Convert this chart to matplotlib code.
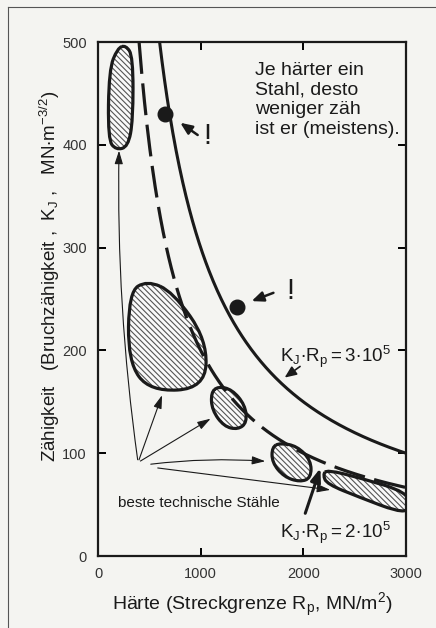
import numpy as np
import matplotlib
matplotlib.use("Agg")
import matplotlib.pyplot as plt
from matplotlib.path import Path
from matplotlib.patches import PathPatch, FancyArrowPatch
from matplotlib.lines import Line2D

plt.rcParams['font.family'] = ['Liberation Sans', 'DejaVu Sans']
plt.rcParams['mathtext.fontset'] = 'custom'
plt.rcParams['mathtext.rm'] = 'Liberation Sans'
plt.rcParams['mathtext.it'] = 'Liberation Sans'
plt.rcParams['hatch.linewidth'] = 0.8

# hyperbolas K_J * R_p = const, as labelled in the chart
product_solid = 3e5
product_dashed = 2e5

# hatched regions "beste technische Stähle" (outline control points, R_p / K_J)
blob_a_x = [270, 341, 341, 292, 175, 97, 107, 190]
blob_a_y = [497, 486, 424, 398, 395, 405, 473, 494]
blob_b_x = [477, 302, 292, 506, 1042, 1062, 730]
blob_b_y = [268, 257, 189, 160, 163, 210, 257]
blob_c_x = [1169, 1305, 1432, 1451, 1364, 1227, 1110, 1101]
blob_c_y = [165, 162, 147, 130, 123, 126, 142, 159]
blob_d_x = [1773, 1938, 2075, 2075, 1967, 1812, 1695, 1695]
blob_d_y = [110, 107, 93, 76, 72, 77, 91, 106]
blob_e_x = [2230, 2552, 3019, 3039, 2922, 2552, 2230, 2191]
blob_e_y = [84, 76, 62, 45, 43, 57, 70, 79]

# exceptional steels (dots marked with "!")
dot_x = [650, 1354]
dot_y = [430, 242]
bang_arrow_tail = [(993, 408), (1734, 257)]
bang_arrow_head = [(779, 423), (1471, 247)]
bang_pos = [(1062, 409), (1870, 258)]

# arrows from the label to the hatched regions
label_arrow_tail = [(390, 91), (390, 91), (390, 91), (487, 89), (555, 86)]
label_arrow_tip = [(205, 397), (633, 159), (1120, 135), (1656, 92), (2289, 64)]
label_arrow_rad = [-0.04, 0.0, 0.0, -0.05, 0.0]

xticks = [0, 1000, 2000, 3000]
yticks = [0, 100, 200, 300, 400, 500]

ink = '#1a1a1a'
paper = '#f4f4f1'

fig = plt.figure(figsize=(4.36, 6.28), dpi=100, facecolor=paper)
ax = fig.add_axes([0.2248, 0.1146, 0.7064, 0.8185])
ax.set_facecolor(paper)
ax.set_xlim(0, 3000)
ax.set_ylim(0, 500)

# outer frame of the figure
fig.add_artist(Line2D([0.018, 0.018], [0.0, 0.989], transform=fig.transFigure, color='#555555', lw=0.8))
fig.add_artist(Line2D([0.018, 1.0], [0.989, 0.989], transform=fig.transFigure, color='#555555', lw=0.8))


def blob_path(xs, ys):
    # smooth closed outline (quadratic B-spline through the edge midpoints)
    pts = np.column_stack([xs, ys]).astype(float)
    n = len(pts)
    mids = (pts + np.roll(pts, -1, axis=0)) / 2
    verts = [mids[-1]]
    codes = [Path.MOVETO]
    for i in range(n):
        verts += [pts[i], mids[i]]
        codes += [Path.CURVE3, Path.CURVE3]
    return Path(verts, codes)


for bx, by in [(blob_a_x, blob_a_y), (blob_b_x, blob_b_y), (blob_c_x, blob_c_y),
               (blob_d_x, blob_d_y), (blob_e_x, blob_e_y)]:
    p = blob_path(bx, by)
    ax.add_patch(PathPatch(p, facecolor='#fafafa', edgecolor='#555555', lw=0, hatch='\\\\\\\\\\\\', zorder=2))
    ax.add_patch(PathPatch(p, facecolor='none', edgecolor=ink, lw=2.3, zorder=3))

# hyperbolas
rp_solid = np.linspace(product_solid / 500, 3000, 300)
ax.plot(rp_solid, product_solid / rp_solid, color=ink, lw=2.2, zorder=4)
rp_dashed = np.linspace(product_dashed / 500, 3000, 300)
ax.plot(rp_dashed, product_dashed / rp_dashed, color=ink, lw=2.3, linestyle=(0, (10, 3)), zorder=4)

# dots with "!"
ax.plot(dot_x, dot_y, 'o', color=ink, markersize=10.5, zorder=5)
for tail, head, pos in zip(bang_arrow_tail, bang_arrow_head, bang_pos):
    ax.add_patch(FancyArrowPatch(tail, head, arrowstyle='-|>,head_length=0.7,head_width=0.3',
                                 mutation_scale=10, lw=1.8, color=ink, zorder=5))
    ax.text(pos[0], pos[1], '!', fontsize=21, ha='center', va='center', color=ink)

# label arrows
for tail, tip, rad in zip(label_arrow_tail, label_arrow_tip, label_arrow_rad):
    ax.add_patch(FancyArrowPatch(tail, tip, arrowstyle='-|>,head_length=0.8,head_width=0.25',
                                 connectionstyle='arc3,rad=%s' % rad,
                                 mutation_scale=10, lw=0.8, color=ink, zorder=5))
ax.text(980, 52, 'beste technische Stähle', fontsize=11, ha='center', va='center', color=ink)

# hyperbola labels
ax.text(1770, 189, r'$\mathrm{K_J\!\bullet\! R_p = 3\!\bullet\! 10^5}$', fontsize=13.5, ha='left', va='baseline', color=ink)
ax.add_patch(FancyArrowPatch((1990, 186), (1796, 172), arrowstyle='-|>,head_length=0.7,head_width=0.3',
                             mutation_scale=10, lw=1.2, color=ink, zorder=5))
ax.text(1770, 18, r'$\mathrm{K_J\!\bullet\! R_p = 2\!\bullet\! 10^5}$', fontsize=13.5, ha='left', va='baseline', color=ink)
ax.add_patch(FancyArrowPatch((2010, 39), (2175, 88), arrowstyle='-|>,head_length=0.8,head_width=0.3',
                             mutation_scale=10, lw=2.2, color=ink, zorder=5))

ax.text(1525, 481, 'Je härter ein\nStahl, desto\nweniger zäh\nist er (meistens).',
        fontsize=14, ha='left', va='top', linespacing=1.22, color=ink)

# axes styling
ax.set_xticks(xticks)
ax.set_yticks(yticks)
ax.tick_params(direction='in', length=6, width=1.4, top=True, right=True,
               labelsize=10.5, labelcolor='#333333', pad=8)
for s in ax.spines.values():
    s.set_linewidth(1.6)
    s.set_color(ink)

ax.set_xlabel(r'Härte (Streckgrenze R$_\mathrm{p}$, MN/m$^\mathrm{2}$)', fontsize=14, color=ink, labelpad=7)
ax.text(-0.155, 0.545, r'Zähigkeit   (Bruchzähigkeit ,  K$_\mathrm{J}$ ,   MN$\bullet$m$^{\mathrm{-3/2}}$)',
        transform=ax.transAxes, rotation=90, fontsize=13.5, ha='center', va='center', color=ink)

fig.savefig('out.png', dpi=100, facecolor=paper)
